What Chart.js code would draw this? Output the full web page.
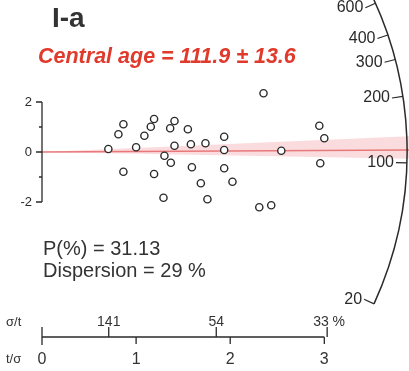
<!DOCTYPE html>
<html>
<head>
<meta charset="utf-8">
<style>
  body { margin: 0; background: #fff; }
  canvas { display: block; }
</style>
</head>
<body>
<canvas id="radial" width="409" height="371"></canvas>
<script src="https://cdn.jsdelivr.net/npm/chart.js"></script>
<script>
  // grain data: x = t/sigma, y = standardised estimate
  const precision = [0.705, 0.865, 0.812, 0.865, 1.0, 1.088, 1.156, 1.191, 1.191, 1.291, 1.301, 1.369, 1.362, 1.408, 1.408, 1.55,
    1.582, 1.593, 1.688, 1.737, 1.758, 1.936, 1.936, 1.936, 2.024, 2.354, 2.309, 2.436, 2.543, 2.947, 3.0, 2.957];
  const zScore = [0.12, 1.11, 0.71, -0.79, 0.19, 0.65, 1.01, 1.32, -0.88, -1.83, -0.15, -0.43, 0.95, 1.24, 0.25, 0.91,
    0.31, -0.61, -1.25, 0.35, -1.89, 0.61, 0.08, -0.65, -1.19, 2.35, -2.21, -2.13, 0.05, 1.05, 0.55, -0.45];
  // central age line and its band (end values at the right edge)
  const lineEnd = 3.9;
  const centralEnd = 0.08;
  const bandUpperEnd = 0.63;
  const bandLowerEnd = -0.27;
  // axes
  const centralAge = 111.9;
  const arcAges = [600, 400, 300, 200, 100, 20];
  const yTicks = [2, 1, 0, -1, -2];
  const yLabels = [2, 0, -2];
  const relErrTicks = [141, 54, 33];
  const precTicks = [0, 1, 2, 3];

  const points = precision.map((p, i) => ({ x: p, y: zScore[i] }));

  const ink = '#2a2a2a';
  const FONT = '"Liberation Sans", Arial, sans-serif';

  const radialAxes = {
    id: 'radialAxes',
    afterDraw(chart) {
      const ctx = chart.ctx;
      const xs = chart.scales.x, ys = chart.scales.y;
      const x0 = xs.getPixelForValue(0), y0 = ys.getPixelForValue(0);
      ctx.save();
      ctx.strokeStyle = ink;
      ctx.fillStyle = ink;
      ctx.lineWidth = 1.3;

      // left z axis
      ctx.beginPath();
      ctx.moveTo(x0, ys.getPixelForValue(2));
      ctx.lineTo(x0, ys.getPixelForValue(-2));
      yTicks.forEach(v => {
        const py = ys.getPixelForValue(v);
        const len = (v % 2 === 0) ? 6 : 3;
        ctx.moveTo(x0 - len, py);
        ctx.lineTo(x0, py);
      });
      ctx.stroke();
      ctx.font = '13px ' + FONT;
      ctx.textAlign = 'right';
      ctx.textBaseline = 'middle';
      yLabels.forEach(v => ctx.fillText(String(v), x0 - 10, ys.getPixelForValue(v)));

      // bottom precision axis
      const by = ys.getPixelForValue(-7.4);
      const x3 = xs.getPixelForValue(3);
      ctx.beginPath();
      ctx.moveTo(x0, by);
      ctx.lineTo(x3, by);
      ctx.moveTo(x0, by - 10); ctx.lineTo(x0, by + 8);
      relErrTicks.forEach(r => {
        const px = xs.getPixelForValue(100 / r);
        ctx.moveTo(px, by - 10); ctx.lineTo(px, by);
      });
      precTicks.slice(1).forEach(t => {
        const px = xs.getPixelForValue(t);
        ctx.moveTo(px, by); ctx.lineTo(px, by + 7);
      });
      ctx.stroke();

      ctx.fillStyle = '#333';
      ctx.font = '14px ' + FONT;
      ctx.textAlign = 'center';
      ctx.textBaseline = 'alphabetic';
      relErrTicks.forEach((r, i) => {
        const px = xs.getPixelForValue(100 / r);
        if (i === relErrTicks.length - 1) {
          ctx.textAlign = 'left';
          ctx.fillText(r + ' %', px - 14, by - 11);
        } else {
          ctx.fillText(String(r), px, by - 11);
        }
      });
      ctx.font = '16px ' + FONT;
      ctx.textAlign = 'center';
      precTicks.forEach(t => ctx.fillText(String(t), xs.getPixelForValue(t), by + 27));
      ctx.font = '13px ' + FONT;
      ctx.textAlign = 'left';
      ctx.fillText('\u03c3/t', 6, by - 11);
      ctx.fillText('t/\u03c3', 6, by + 26);

      // radial age arc
      const R = xs.getPixelForValue(3.88) - x0;
      const dirAngle = age => {
        const dx = xs.getPixelForValue(1) - x0;
        const dy = ys.getPixelForValue(Math.log(age / centralAge)) - y0;
        return Math.atan2(dy, dx);
      };
      ctx.strokeStyle = ink;
      ctx.lineWidth = 1.5;
      ctx.beginPath();
      ctx.arc(x0, y0, R, dirAngle(900), dirAngle(20));
      ctx.stroke();
      ctx.lineWidth = 1.2;
      ctx.font = '16px ' + FONT;
      ctx.textAlign = 'right';
      ctx.textBaseline = 'middle';
      ctx.fillStyle = ink;
      arcAges.forEach(a => {
        const ang = dirAngle(a);
        const ox = x0 + R * Math.cos(ang), oy = y0 + R * Math.sin(ang);
        const ix = x0 + (R - 11) * Math.cos(ang), iy = y0 + (R - 11) * Math.sin(ang);
        ctx.beginPath();
        ctx.moveTo(ox, oy);
        ctx.lineTo(ix, iy);
        ctx.stroke();
        ctx.fillText(String(a), ix - 2, iy);
      });

      // titles
      ctx.textAlign = 'left';
      ctx.textBaseline = 'alphabetic';
      ctx.fillStyle = '#333';
      ctx.font = 'bold 28px ' + FONT;
      ctx.fillText('I-a', 52, 27);
      ctx.fillStyle = '#e03a2c';
      ctx.font = 'italic bold 21.5px ' + FONT;
      ctx.fillText('Central age = 111.9 \u00b1 13.6', 38, 63);
      ctx.fillStyle = '#333';
      ctx.font = '20px ' + FONT;
      ctx.fillText('P(%) = 31.13', 43, 255);
      ctx.fillText('Dispersion = 29 %', 43, 277);
      ctx.restore();
    }
  };

  new Chart(document.getElementById('radial'), {
    type: 'scatter',
    data: {
      datasets: [
        {
          data: points,
          pointRadius: 3.6,
          pointBorderWidth: 1.4,
          borderColor: ink,
          backgroundColor: '#fff'
        },
        {
          type: 'line',
          data: [{ x: 0, y: 0 }, { x: lineEnd, y: centralEnd }],
          borderColor: '#e8797b',
          borderWidth: 1.6,
          pointRadius: 0
        },
        {
          type: 'line',
          data: [{ x: 0, y: 0 }, { x: lineEnd, y: bandUpperEnd }],
          borderWidth: 0,
          pointRadius: 0,
          fill: '+1',
          backgroundColor: 'rgba(243, 140, 145, 0.3)'
        },
        {
          type: 'line',
          data: [{ x: 0, y: 0 }, { x: lineEnd, y: bandLowerEnd }],
          borderWidth: 0,
          pointRadius: 0
        }
      ]
    },
    options: {
      responsive: false,
      animation: false,
      layout: { autoPadding: false, padding: { left: 42, right: 0, top: 0, bottom: 0 } },
      scales: {
        x: { type: 'linear', min: 0, max: 3.9, display: false },
        y: { type: 'linear', min: -8.76, max: 6.08, display: false }
      },
      plugins: { legend: { display: false }, tooltip: { enabled: false } }
    },
    plugins: [radialAxes]
  });
</script>
</body>
</html>
